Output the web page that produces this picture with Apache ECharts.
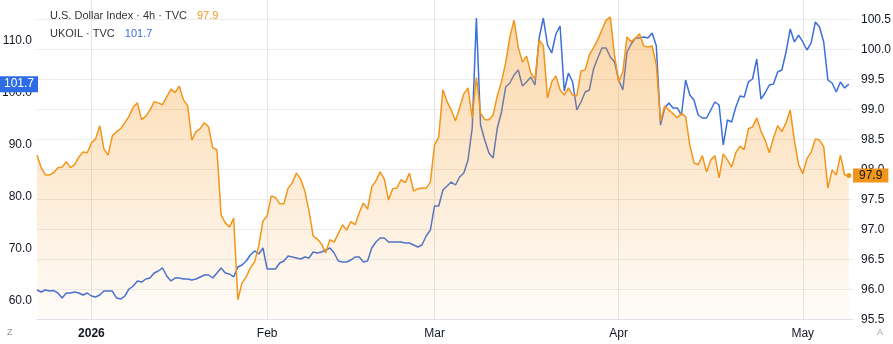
<!DOCTYPE html>
<html><head><meta charset="utf-8">
<script src="https://cdn.jsdelivr.net/npm/echarts@6/dist/echarts.min.js"></script>
<style>html,body{margin:0;padding:0;background:#fff}#c{width:893px;height:344px}</style>
</head><body><div id="c"></div>
<script>
// U.S. Dollar Index (TVC, 4h) – right axis, sampled twice per trading day
const dxy = [
98.24,98.03,97.91,97.91,97.95,98.03,98.04,98.13,98.03,98.08,
98.21,98.29,98.28,98.44,98.51,98.73,98.34,98.24,98.56,98.63,
98.68,98.78,98.89,99.04,99.11,98.83,98.89,98.99,99.13,99.11,
99.08,99.21,99.34,99.28,99.39,99.16,99.06,98.49,98.63,98.68,
98.78,98.71,98.36,98.33,97.24,97.11,97.04,97.19,95.83,96.11,
96.21,96.36,96.46,96.73,97.14,97.23,97.56,97.53,97.43,97.43,
97.69,97.78,97.94,97.84,97.64,97.31,96.89,96.84,96.76,96.61,
96.83,96.79,96.93,97.08,96.99,97.13,97.08,97.28,97.44,97.34,
97.71,97.81,97.96,97.84,97.49,97.68,97.69,97.83,97.78,97.94,
97.64,97.68,97.69,97.69,97.79,98.41,98.54,99.33,99.13,98.99,
98.81,99.03,99.26,99.36,98.86,99.53,98.94,98.83,98.83,98.91,
99.23,99.46,99.78,100.21,100.49,100.04,99.79,99.89,99.61,99.51,
100.16,100.06,99.19,99.46,99.56,99.33,99.24,99.36,99.24,99.23,
99.64,99.66,99.91,100.03,100.16,100.33,100.49,100.54,99.91,99.46,
99.63,100.21,100.13,100.19,100.26,100.06,100.04,100.06,99.74,98.81,
99.06,98.99,98.93,98.86,98.94,98.88,98.41,98.11,98.08,98.23,
97.96,98.16,98.23,97.86,98.26,98.16,98.04,98.28,98.39,98.33,
98.68,98.71,98.86,98.64,98.49,98.28,98.53,98.73,98.63,98.78,
98.99,98.48,98.08,97.93,98.18,98.29,98.51,98.49,98.38,97.69,
97.99,97.91,98.24,97.91,97.9
];
// UKOIL (TVC) – left axis
const ukoil = [
62.12,61.73,62.12,61.92,62.0,61.54,60.58,61.54,61.54,61.73,
61.54,61.15,61.54,60.96,60.77,61.15,61.92,61.92,61.92,60.58,
60.38,60.96,62.31,62.88,63.85,63.65,64.23,64.42,65.38,65.77,
66.35,64.81,63.85,64.42,64.42,64.23,64.23,64.04,64.23,64.62,
65.0,65.0,64.42,65.38,66.35,65.38,65.19,64.62,66.54,66.92,
67.69,68.85,69.62,69.04,70.19,66.15,66.15,66.15,67.31,67.69,
68.65,68.46,68.27,68.08,68.46,68.27,69.42,69.23,69.42,69.81,
70.19,69.23,67.69,67.5,67.5,67.88,68.46,68.46,67.5,67.69,
70.19,71.35,72.12,72.12,71.35,71.35,71.35,71.35,71.15,71.15,
70.77,70.38,70.77,72.5,73.65,78.27,78.27,81.35,82.12,82.88,
82.31,83.85,84.62,87.12,93.27,114.42,93.85,90.96,88.46,87.5,
93.27,96.35,101.15,101.92,103.46,104.42,101.35,102.12,103.08,101.54,
110.58,114.42,109.23,107.69,111.35,112.88,100.38,103.85,102.12,96.73,
98.27,100.19,100.58,104.62,106.73,108.65,108.65,106.92,105.96,102.5,
100.58,107.88,109.42,110.58,110.58,110.77,110.58,111.54,109.04,93.85,
97.12,98.08,97.12,97.12,95.77,102.5,99.62,98.65,95.77,95.19,
95.19,96.73,98.27,97.69,90.0,94.81,94.42,97.31,99.42,99.23,
102.12,102.69,106.54,98.85,100.0,101.54,101.73,104.04,104.42,107.88,
112.31,109.81,111.15,109.81,108.27,109.62,113.65,112.69,109.81,102.5,
101.92,100.19,102.12,100.96,101.7
];
const monthTickDays = ['2026-01-02','2026-02-02','2026-03-02','2026-04-01','2026-05-01'];
const monthTickLabels = ['2026','Feb','Mar','Apr','May'];
const holidays = ['2025-12-25','2026-01-01'];
const firstDay = '2025-12-22', lastDay = '2026-05-11';

// categories: two 12h slots per trading day
const categories = [];
(function(){
  let d = new Date(firstDay + 'T00:00:00Z');
  const end = new Date(lastDay + 'T00:00:00Z');
  while (d <= end) {
    const wd = d.getUTCDay();
    const s = d.toISOString().slice(0,10);
    if (wd !== 0 && wd !== 6 && holidays.indexOf(s) < 0) {
      categories.push(s + ' AM'); categories.push(s + ' PM');
    }
    d = new Date(d.getTime() + 86400000);
  }
  categories.shift();   // series begin on the afternoon slot
  categories.pop();     // axis ends on the morning slot
})();
const tickMap = {};
monthTickDays.forEach((d,i)=>{ tickMap[d + ' AM'] = monthTickLabels[i]; });
const isTick = (idx, val) => tickMap.hasOwnProperty(val);

const ORANGE = '#F2961B', BLUE = '#3D6FDA';
const FONT = '"Liberation Sans", Arial, sans-serif';
const lastD = dxy[dxy.length-1], lastU = ukoil[ukoil.length-1];

const chart = echarts.init(document.getElementById('c'), null, {renderer:'canvas'});
chart.setOption({
  animation: false,
  textStyle: {fontFamily: FONT},
  title: {
    left: 45, top: 2,
    text: '{t|U.S. Dollar Index · 4h · TVC}  {o|' + lastD.toFixed(1) + '}\n{t|UKOIL · TVC}  {b|' + lastU.toFixed(1) + '}',
    textStyle: {
      fontFamily: FONT, fontWeight: 'normal',
      rich: {
        t: {fontSize: 11, color: '#333', lineHeight: 13, fontFamily: FONT, fontWeight: 'normal'},
        o: {fontSize: 11, color: ORANGE, lineHeight: 13, fontFamily: FONT, fontWeight: 'normal'},
        b: {fontSize: 11, color: BLUE, lineHeight: 13, fontFamily: FONT, fontWeight: 'normal'}
      }
    }
  },
  graphic: [
    {type:'text', left: 7, top: 328, style:{text:'Z', fill:'#9598a1', font:'9px ' + FONT}},
    {type:'text', left: 877, top: 328, style:{text:'A', fill:'#9598a1', font:'9px ' + FONT}}
  ],
  grid: [
    {left: 37, right: 40, top: -2, bottom: 24.5, containLabel:false, outerBoundsMode:'none'},
    {left: 37, right: 40, top: -11, bottom: -9, containLabel:false, outerBoundsMode:'none'}
  ],
  xAxis: [
    {type:'category', gridIndex:0, data: categories, boundaryGap:false,
     axisLine:{lineStyle:{color:'#e0e3eb'}}, axisTick:{show:false},
     axisLabel:{interval:isTick, color:'#131722', fontSize:12, margin:8, fontFamily:FONT,
       formatter:v => { const t = tickMap[v] || ''; return /^\d{4}$/.test(t) ? '{y|' + t + '}' : t; },
       rich:{y:{fontWeight:'bold', fontSize:12, color:'#131722', fontFamily:FONT}}},
     splitLine:{show:true, interval:isTick, lineStyle:{color:'#e6e6e6', width:1}}},
    {type:'category', gridIndex:1, data: categories, boundaryGap:false, show:false}
  ],
  yAxis: [
    {type:'value', gridIndex:0, position:'right', min:95.5, max:100.858, interval:0.5,
     axisLine:{show:false}, axisTick:{show:false},
     axisLabel:{showMaxLabel:false, formatter:v => v.toFixed(1), color:'#131722', fontSize:12, margin:8, fontFamily:FONT},
     splitLine:{lineStyle:{color:'#ececec'}},
     axisPointer:{show:true, type:'line', status:'show', value:lastD, snap:false, triggerTooltip:false,
       lineStyle:{opacity:0}, handle:{show:false},
       label:{show:true, formatter:p => Number(p.value).toFixed(1), backgroundColor:ORANGE, color:'#131722',
              fontSize:12, padding:[1,6,1,6], margin:0, fontFamily:FONT, borderRadius:0}}},
    {type:'value', gridIndex:1, position:'left', min:50, max:120, interval:10,
     axisLine:{show:false}, axisTick:{show:false}, splitLine:{show:false},
     axisLabel:{formatter:v => v.toFixed(1), color:'#131722', fontSize:12, margin:5, fontFamily:FONT},
     axisPointer:{show:true, type:'line', status:'show', value:lastU, snap:false, triggerTooltip:false,
       lineStyle:{opacity:0}, handle:{show:false},
       label:{show:true, formatter:p => Number(p.value).toFixed(1), backgroundColor:'#2E6BE6', color:'#fff',
              fontSize:12, padding:[2,4,2,4], margin:0, fontFamily:FONT, borderRadius:0}}}
  ],
  series: [
    {name:'UKOIL', type:'line', xAxisIndex:1, yAxisIndex:1, data: ukoil, symbol:'none', showSymbol:false,
     lineStyle:{color:BLUE, width:1.5}, z:1, clip:false},
    {name:'DXY', type:'line', xAxisIndex:0, yAxisIndex:0, z:2, symbol:'none', showSymbol:true, showAllSymbol:true,
     data: dxy.map((v,i) => i === dxy.length-1 ? {value:v, symbol:'circle', symbolSize:5, itemStyle:{color:ORANGE, borderWidth:0}} : v),
     lineStyle:{color:ORANGE, width:1.5},
     areaStyle:{color:new echarts.graphic.LinearGradient(0,0,0,1,[
       {offset:0, color:'rgba(245,150,30,0.55)'},
       {offset:1, color:'rgba(245,150,30,0.04)'}])}}
  ]
});
</script>
</body></html>
